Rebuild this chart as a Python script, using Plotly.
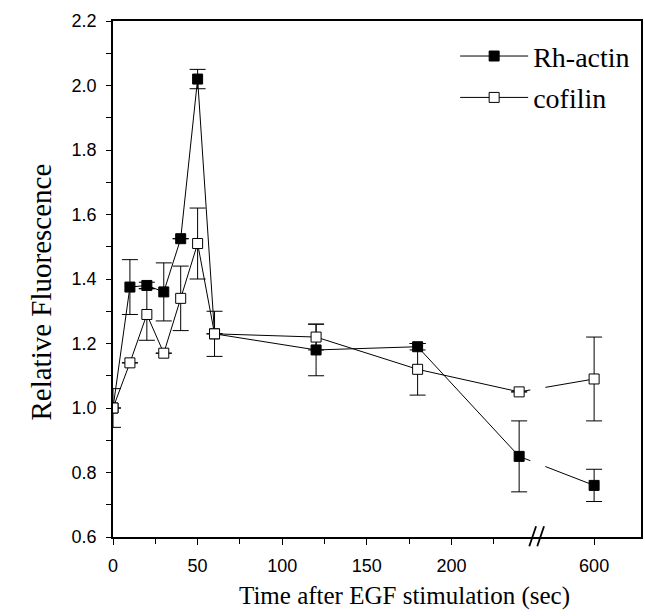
import plotly.graph_objects as go

# ---- data ----
time_sec = [0, 10, 20, 30, 40, 50, 60, 120, 180, 240, 600]
rh_actin = [1.00, 1.375, 1.38, 1.36, 1.525, 2.02, 1.23, 1.18, 1.19, 0.85, 0.76]
rh_actin_err = [0.0, 0.085, 0.01, 0.09, 0.0, 0.03, 0.0, 0.08, 0.01, 0.11, 0.05]
cofilin = [1.00, 1.14, 1.29, 1.17, 1.34, 1.51, 1.23, 1.22, 1.12, 1.05, 1.09]
cofilin_err = [0.06, 0.0, 0.08, 0.0, 0.10, 0.11, 0.07, 0.04, 0.08, 0.0, 0.13]
x_tick_vals = [0, 50, 100, 150, 200, 600]
x_tick_text = ["0", "50", "100", "150", "200", "600"]

# broken axis: linear up to 250 s, then a compressed segment holding 600 s
BREAK_AT = 250
AFTER_BREAK_600 = 284.3


def to_axis(t):
    if t <= BREAK_AT:
        return t
    return AFTER_BREAK_600 + (t - 600) * 0.3


X_MAX = 312.0

xs = [to_axis(t) for t in time_sec]

fig = go.Figure()
fig.add_trace(go.Scatter(
    x=xs, y=rh_actin, name="Rh-actin", mode="lines+markers", legendgroup="a",
    line=dict(color="black", width=1),
    marker=dict(symbol="square", size=10, color="black", line=dict(color="black", width=1)),
    error_y=dict(type="data", array=rh_actin_err, color="black", thickness=1, width=8),
))
fig.add_trace(go.Scatter(
    x=xs, y=cofilin, name="cofilin", mode="lines+markers", legendgroup="b",
    line=dict(color="black", width=1),
    marker=dict(symbol="square", size=10, color="white", line=dict(color="black", width=1)),
    error_y=dict(type="data", array=cofilin_err, color="black", thickness=1, width=8),
))

# gap in connecting lines across the break
gap0, gap1 = 246.6, 255.5
fig.add_shape(type="rect", xref="x", yref="y", x0=gap0, x1=gap1, y0=0.65, y1=1.15,
              fillcolor="white", line=dict(width=0), layer="above")


# "//" break mark on the x axis
def px(d):
    return d / X_MAX


for off in (0.0, 8.0):
    fig.add_shape(type="line", xref="paper", yref="paper",
                  x0=px(246.0 + off / 1.7), x1=px(250.0 + off / 1.7),
                  y0=-0.018, y1=0.021, line=dict(color="black", width=1.8))

serif = "Liberation Serif, Times New Roman, serif"
sans = "Liberation Sans, Arial, sans-serif"

fig.update_layout(
    width=645, height=616,
    margin=dict(l=113, r=2, t=21, b=79),
    plot_bgcolor="white", paper_bgcolor="white",
    showlegend=True,
    legend=dict(x=0.648, y=0.98, xanchor="left", yanchor="top",
                font=dict(family=serif, size=28, color="black"),
                bgcolor="rgba(0,0,0,0)", itemwidth=68, tracegroupgap=2),
    xaxis=dict(range=[0, X_MAX], tickmode="array",
               tickvals=[to_axis(t) for t in x_tick_vals], ticktext=x_tick_text,
               ticks="outside", ticklen=6, tickwidth=1, tickcolor="black",
               ticklabelstandoff=6,
               minor=dict(tickvals=[25, 75, 125, 175, 225], ticks="outside", ticklen=5,
                          tickcolor="black", tickwidth=1),
               showline=True, linecolor="black", linewidth=1.5, mirror=True,
               showgrid=False, zeroline=False,
               tickfont=dict(family=sans, size=18, color="black")),
    yaxis=dict(range=[0.6, 2.2], tickmode="array",
               tickvals=[0.6, 0.8, 1.0, 1.2, 1.4, 1.6, 1.8, 2.0, 2.2],
               ticktext=["0.6", "0.8", "1.0", "1.2", "1.4", "1.6", "1.8", "2.0", "2.2"],
               ticks="outside", ticklen=5, tickwidth=1, tickcolor="black",
               ticklabelstandoff=6,
               minor=dict(tickvals=[0.7, 0.9, 1.1, 1.3, 1.5, 1.7, 1.9, 2.1], ticks="outside",
                          ticklen=5, tickcolor="black", tickwidth=1),
               showline=True, linecolor="black", linewidth=1.5, mirror=True,
               showgrid=False, zeroline=False,
               tickfont=dict(family=sans, size=18, color="black")),
)

fig.add_annotation(text="Relative Fluorescence", xref="paper", yref="paper",
                   x=-0.137, y=0.475, xanchor="center", yanchor="middle",
                   textangle=-90, showarrow=False,
                   font=dict(family=serif, size=29, color="black"))
fig.add_annotation(text="Time after EGF stimulation (sec)", xref="paper", yref="paper",
                   x=0.553, y=-0.115, xanchor="center", yanchor="middle", showarrow=False,
                   font=dict(family=serif, size=25, color="black"))

fig.write_html("out.html")
